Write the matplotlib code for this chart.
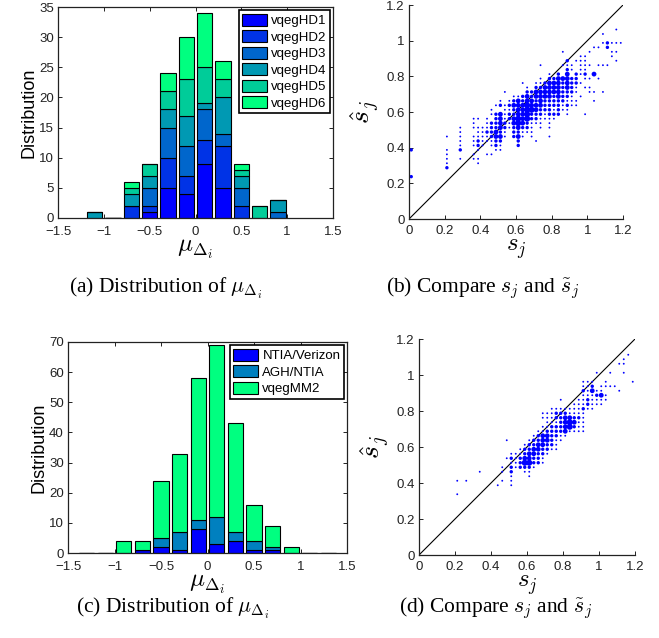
import numpy as np
import matplotlib
matplotlib.use('Agg')
import matplotlib.pyplot as plt

plt.rcParams['font.family'] = ['Liberation Sans', 'DejaVu Sans']

# ---------------- (a) stacked histogram ----------------
centers_a = [-1.1, -0.9, -0.7, -0.5, -0.3, -0.1, 0.1, 0.3, 0.5, 0.7, 0.9]
labels_a = ['vqegHD1', 'vqegHD2', 'vqegHD3', 'vqegHD4', 'vqegHD5', 'vqegHD6']
hd1 = [0, 0, 0, 1, 5, 4, 9, 5, 0, 0, 0]
hd2 = [0, 0, 2, 1, 5, 3, 4, 7, 2, 0, 0]
hd3 = [0, 0, 0, 3, 5, 5, 5, 2, 3, 0, 1]
hd4 = [1, 0, 2, 2, 3, 5, 1, 6, 2, 0, 2]
hd5 = [0, 0, 1, 2, 3, 6, 6, 3, 1, 2, 0]
hd6 = [0, 0, 1, 0, 3, 7, 9, 3, 1, 0, 0]
series_a = [hd1, hd2, hd3, hd4, hd5, hd6]

# ---------------- (c) stacked histogram ----------------
centers_c = [-1.3, -1.1, -0.9, -0.7, -0.5, -0.3, -0.1, 0.1, 0.3, 0.5, 0.7, 0.9, 1.1, 1.3]
labels_c = ['NTIA/Verizon', 'AGH/NTIA', 'vqegMM2']
ntia = [0, 0, 0, 1, 2, 1, 8, 3, 4, 1, 1, 0, 0, 0]
agh = [0, 0, 0, 0, 3, 6, 3, 9, 3, 3, 1, 0, 0, 0]
mm2 = [0, 0, 4, 3, 19, 26, 47, 57, 36, 12, 7, 2, 0, 0]
series_c = [ntia, agh, mm2]

# ---------------- scatter data (score grid of step 0.025) ----------------
grid0, gstep = 0.0125, 0.025
# (row index, first column index, counts per column; '.' = none)
rows_b = [
    (42, 46, "1"), (41, 43, "1"), (39, 43, "12111"), (38, 41, "11.2"),
    (37, 34, "1"), (37, 40, "1....11"), (36, 38, "11"), (36, 45, "1"),
    (35, 35, "2.111"), (35, 46, "1"), (34, 29, "1"), (34, 34, "111.111.111"),
    (33, 35, "21.11"), (32, 31, "1.2.3.212.3"), (31, 29, "1.2233322.11.1"),
    (30, 25, "1..11233323221"), (29, 26, "1.2233332321.11"),
    (28, 21, "1....223333332221..11.1"), (27, 23, "11232333323221.1"),
    (26, 20, "1.1232332322222111"), (26, 41, "1"),
    (25, 19, "1212333433322221211"), (24, 18, "1..112334432221211"),
    (23, 18, "1231223342221222.1...1"), (22, 14, "11.1.23123434221111"),
    (21, 14, "1..1223213432111.1"), (20, 11, "1..11112232123221.1.1"),
    (19, 11, "1...1122321.22111"), (18, 8, "1..1..11112331.231.1...1"),
    (17, 11, "1..1211122...2"), (17, 28, "1"), (16, 11, "1..121.121...2"),
    (15, 0, "2"), (15, 8, "1..2...1...11"), (14, 8, "1.....1..11"),
    (13, 8, "1..1..11"), (12, 8, "1......1"), (11, 8, "2"), (9, 0, "2"),
]
rows_d = [
    (44, 46, "1"), (43, 45, "1"), (42, 44, "11"), (40, 39, "1..1..1"),
    (38, 36, "111..1.....1"), (37, 36, "112.1111"), (36, 36, "21311...1"),
    (35, 36, "111231"), (34, 31, "1...1121111"), (33, 34, "1112111"),
    (32, 29, "1111111211"), (31, 27, "1112221111"), (30, 27, "1112233221"),
    (29, 28, "111234311"), (28, 27, "1122234211"), (27, 26, "11222231111"),
    (26, 25, "12332211"), (25, 19, "1....12233211"), (24, 23, "12233221"),
    (23, 22, "122332211"), (22, 20, "111233221"), (21, 19, "121233221"),
    (20, 20, "11244221"), (19, 18, "1.212221"), (18, 13, "1....1.2..11"),
    (17, 20, "1...1"), (16, 8, "1.1.......1.1"), (15, 17, "1..1"), (13, 8, "1"),
]
size_of_count = {1: 1.8, 2: 6.0, 3: 12.0, 4: 19.0}


def expand(rows):
    xs, ys, cs = [], [], []
    for r, k0, pat in rows:
        for i, ch in enumerate(pat):
            if ch != '.':
                xs.append(grid0 + gstep * (k0 + i))
                ys.append(grid0 + gstep * r)
                cs.append(int(ch))
    return np.array(xs), np.array(ys), np.array(cs)


def winter(n):
    t = np.linspace(0, 1, n)
    return [(0.0, v, 1 - 0.5 * v) for v in t]


W, H = 659, 638
fig = plt.figure(figsize=(W / 100, H / 100), dpi=100)


def box(l, r, t, b):
    return [l / W, 1 - b / H, (r - l) / W, (b - t) / H]


def style(ax, boxed, xpad):
    for s in ax.spines.values():
        s.set_linewidth(0.9)
        s.set_color('#222222')
    if not boxed:
        ax.spines['top'].set_visible(False)
        ax.spines['right'].set_visible(False)
    ax.tick_params(direction='in', length=3, width=0.7, labelsize=9.5,
                   top=boxed, right=boxed, colors='#222222')
    ax.tick_params(axis='x', pad=xpad)
    ax.tick_params(axis='y', pad=3)


def hist(ax, centers, series, labels, ymax, ystep):
    cols = winter(len(series))
    bottom = np.zeros(len(centers))
    for vals, c, lab in zip(series, cols, labels):
        v = np.array(vals, dtype=float)
        ax.bar(centers, v, width=0.165, bottom=bottom, color=c,
               edgecolor='black', linewidth=0.8, label=lab, zorder=2)
        bottom += v
    ax.set_xlim(-1.5, 1.5)
    ax.set_ylim(0, ymax)
    ax.set_xticks([-1.5, -1, -0.5, 0, 0.5, 1, 1.5])
    ax.set_xticklabels(['\u22121.5', '\u22121', '\u22120.5', '0', '0.5', '1', '1.5'])
    ax.set_yticks(np.arange(0, ymax + 1, ystep))
    style(ax, True, 6)
    ax.set_ylabel('Distribution', fontsize=13, labelpad=1)
    ax.set_xlabel(r'$\mu_{\Delta_i}$', fontsize=18, labelpad=-1, math_fontfamily='cm')
    leg = ax.legend(loc='upper right', fancybox=False, edgecolor='black',
                    framealpha=1, fontsize=9.5, handlelength=1.9, handleheight=1.05,
                    borderpad=0.25, labelspacing=0.22, handletextpad=0.3,
                    borderaxespad=0.25)
    leg.get_frame().set_linewidth(1.2)


def scat(ax, rows):
    x, y, c = expand(rows)
    s = [size_of_count[v] for v in c]
    ax.plot([0, 1.2], [0, 1.2], color='black', linewidth=0.8, zorder=1)
    ax.scatter(x, y, s=s, color='#0000ff', linewidths=0, zorder=2)
    ax.set_xlim(0, 1.2)
    ax.set_ylim(0, 1.2)
    ticks = [0, 0.2, 0.4, 0.6, 0.8, 1.0, 1.2]
    tl = ['0', '0.2', '0.4', '0.6', '0.8', '1', '1.2']
    ax.set_xticks(ticks)
    ax.set_xticklabels(tl)
    ax.set_yticks(ticks)
    ax.set_yticklabels(tl)
    style(ax, False, 4)
    ax.set_xlabel(r'$s_j$', fontsize=18, labelpad=0, math_fontfamily='cm')
    ax.set_ylabel(r'$\hat{s}_j$', fontsize=20, labelpad=3, math_fontfamily='cm')


ax_a = fig.add_axes(box(58, 333, 7, 218))
hist(ax_a, centers_a, series_a, labels_a, 35, 5)
ax_b = fig.add_axes(box(409, 623, 5, 219))
scat(ax_b, rows_b)
ax_c = fig.add_axes(box(68, 347, 342, 553))
hist(ax_c, centers_c, series_c, labels_c, 70, 10)
ax_d = fig.add_axes(box(419, 635, 339, 555))
scat(ax_d, rows_d)

cap_kw = dict(fontsize=15.5, family='Liberation Serif', math_fontfamily='cm',
              ha='center', va='center')
fig.text(166 / W, 1 - 288 / H, r'(a) Distribution of $\mu_{\Delta_i}$', **cap_kw)
fig.text(483 / W, 1 - 288 / H, r'(b) Compare $s_j$ and $\tilde{s}_j$', **cap_kw)
fig.text(173 / W, 1 - 608 / H, r'(c) Distribution of $\mu_{\Delta_i}$', **cap_kw)
fig.text(496 / W, 1 - 608 / H, r'(d) Compare $s_j$ and $\tilde{s}_j$', **cap_kw)

fig.savefig('out.png', dpi=100)
